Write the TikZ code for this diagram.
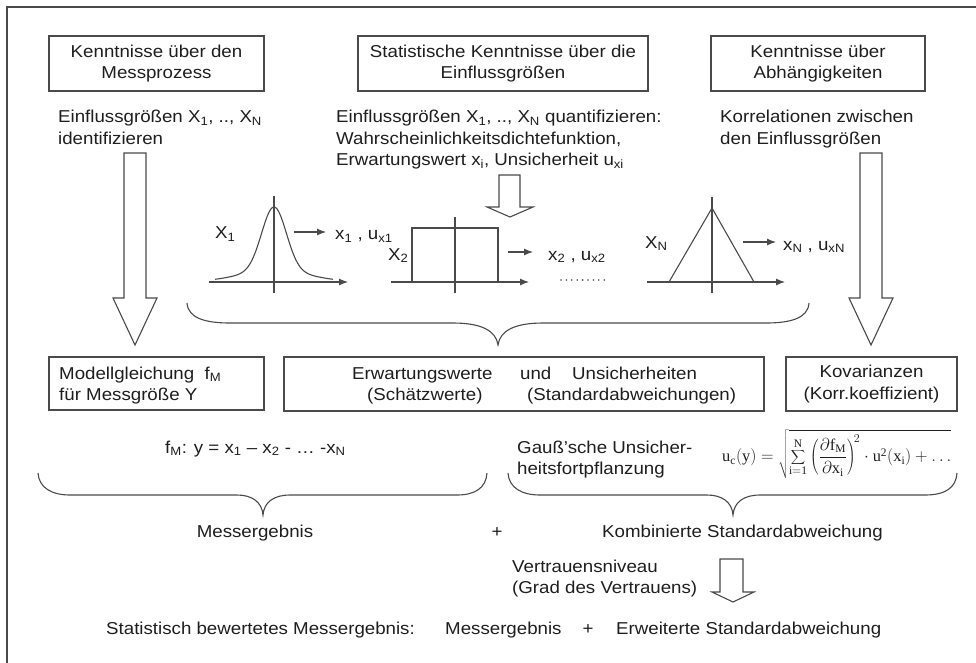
\documentclass[tikz,border=0pt]{standalone}
\usepackage{fontspec}
\setmainfont{Liberation Sans}[FakeStretch=1.087]
\setmathrm{Liberation Serif}
\usetikzlibrary{arrows.meta}
\definecolor{textc}{HTML}{1E1E1E}
\definecolor{linec}{HTML}{4A4A4A}
\newcommand{\subs}[1]{\textsubscript{#1}}
\newcommand{\fs}{\fontsize{17.2}{21.5}\selectfont}
\begin{document}
\begin{tikzpicture}[x=1pt,y=-1pt,
  box/.style={draw=linec, line width=1.2pt, inner sep=0pt, align=center, font=\fs, text=textc},
  txt/.style={anchor=base west, inner sep=0pt, font=\fs, text=textc},
  ctxt/.style={anchor=base, inner sep=0pt, font=\fs, text=textc},
  hollow/.style={draw=linec, fill=white, line width=1.1pt, line join=miter},
  axis/.style={draw=linec, line width=1.1pt, -{Latex[length=9pt,width=7pt]}},
  curve/.style={draw=linec, line width=1.1pt},
  brace/.style={draw=linec, line width=1.1pt},
  frame/.style={draw=linec, line width=1.5pt}]
\useasboundingbox (0,0) rectangle (976,662);
% frame
\draw[frame] (7,663) -- (7,7) -- (977,7);

% top boxes
\node[box, minimum width=215, minimum height=55] (b1) at (156.5,63.5) {Kenntnisse über den\\Messprozess};
\node[box, minimum width=290, minimum height=55] (b2) at (503,63.5) {Statistische Kenntnisse über die\\Einflussgrößen};
\node[box, minimum width=214, minimum height=55] (b3) at (818,63.5) {Kenntnisse über\\Abhängigkeiten};

% texts below top boxes
\node[txt] (t1a) at (58,122.7) {Einflussgrößen X\subs{1}, .., X\subs{N}};
\node[txt] (t1b) at (58,144) {identifizieren};
\node[txt] (t2a) at (336,122.7) {Einflussgrößen X\subs{1}, .., X\subs{N} quantifizieren:};
\node[txt] (t2b) at (336,144) {Wahrscheinlichkeitsdichtefunktion,};
\node[txt] (t2c) at (336,165.5) {Erwartungswert x\subs{i}, Unsicherheit u\subs{xi}};
\node[txt] (t3a) at (720,122.7) {Korrelationen zwischen};
\node[txt] (t3b) at (720,144) {den Einflussgrößen};

% hollow arrows
\draw[hollow] (124,153) -- (146,153) -- (146,298) -- (157,298) -- (135,345) -- (113,298) -- (124,298) -- cycle;
\draw[hollow] (860,153) -- (882,153) -- (882,298) -- (893,298) -- (871,345) -- (849,298) -- (860,298) -- cycle;
\draw[hollow] (499,175) -- (520,175) -- (520,207) -- (533,207) -- (510,217) -- (487,207) -- (499,207) -- cycle;
\draw[hollow] (720,559) -- (743,559) -- (743,592) -- (754,592) -- (733,602) -- (712,592) -- (720,592) -- cycle;

% distribution 1: Gaussian
\draw[axis] (209,282) -- (348,282);
\draw[curve] (274,196) -- (274,293);
\draw[curve] plot[domain=-59:59, samples=90, smooth] ({274+\x},{282-75*(0.85*exp(-(\x*\x)/300)+0.15*exp(-(\x*\x)/2450))});
\node[txt] (lx1) at (215,238.5) {X\subs{1}};
\coordinate (a1s) at (294,232);
\coordinate (a1e) at (326,232);
\draw[axis] (a1s) -- (a1e);
\node[txt] (v1) at (335,239.5) {x\subs{1} , u\subs{x1}};

% distribution 2: rectangle
\draw[axis] (391,282) -- (529,282);
\draw[curve] (455,217) -- (455,293);
\draw[curve] (412,282) -- (412,228) -- (498,228) -- (498,282);
\node[txt] (lx2) at (388,260) {X\subs{2}};
\coordinate (a2s) at (508,252);
\coordinate (a2e) at (533,252);
\draw[axis] (a2s) -- (a2e);
\node[txt] (v2) at (548,260) {x\subs{2} , u\subs{x2}};
\foreach \i in {0,...,8} \fill[linec] (561+5.4*\i,280) circle (0.9);

% distribution N: triangle
\draw[axis] (647,282) -- (785,282);
\draw[curve] (712,197) -- (712,293);
\draw[curve, line join=miter] (669,282) -- (712,208) -- (754,282);
\node[txt] (lxn) at (645,248) {X\subs{N}};
\coordinate (ans) at (743,242);
\coordinate (ane) at (776,242);
\draw[axis] (ans) -- (ane);
\node[txt] (vn) at (783,250) {x\subs{N} , u\subs{xN}};

% top brace
\draw[brace] (187,303) .. controls (188,318) and (205,323) .. (230,323) -- (453,323)
  .. controls (480,323) and (496,330) .. (498,345)
  .. controls (500,330) and (516,323) .. (543,323) -- (766,323)
  .. controls (791,323) and (808,318) .. (809,303);

% middle boxes
\node[box, minimum width=215, minimum height=53] (b4) at (156.5,383.5) {};
\node[txt] (b4a) at (59,379) {Modellgleichung \ f\subs{M}};
\node[txt] (b4b) at (59,400.7) {für Messgröße Y};
\node[box, minimum width=480, minimum height=54] (b5) at (524,384) {};
\node[txt] (b5a) at (352,379) {Erwartungswerte};
\node[txt] (b5b) at (520,379) {und};
\node[txt] (b5c) at (572,379) {Unsicherheiten};
\node[txt] (b5d) at (367,400.7) {(Schätzwerte)};
\node[txt] (b5e) at (527,400.7) {(Standardabweichungen)};
\node[box, minimum width=171, minimum height=54] (b6) at (871.5,384) {Kovarianzen\\(Korr.koeffizient)};

% model equation
\node[txt] (feq) at (165,453) {f\subs{M}: y = x\subs{1} – x\subs{2} - … -x\subs{N}};
\node[txt] (gs1) at (517,453) {Gauß'sche Unsicher-};
\node[txt] (gs2) at (517,474) {heitsfortpflanzung};
\node[anchor=west, inner sep=0pt, text=textc, font=\fontsize{16.4}{19}\selectfont] (form) at (722,454)
  {$\displaystyle \mathrm{u_c(y)} = \sqrt{\sum_{\mathrm{i=1}}^{\mathrm{N}} \left(\frac{\partial \mathrm{f_M}}{\partial \mathrm{x_i}}\right)^{\!2} \cdot \mathrm{u^2(x_i)} + \ldots}$};

% lower braces
\draw[brace] (38,473) .. controls (39,488) and (52,495) .. (70,495) -- (237,495)
  .. controls (252,495) and (262,502) .. (263,515)
  .. controls (264,502) and (274,495) .. (290,495) -- (457,495)
  .. controls (475,495) and (486,488) .. (487,473);
\draw[brace] (508,473) .. controls (509,488) and (522,495) .. (540,495) -- (707,495)
  .. controls (722,495) and (732,502) .. (733,515)
  .. controls (734,502) and (744,495) .. (760,495) -- (925,495)
  .. controls (945,495) and (956,488) .. (957,473);

% results
\node[ctxt] (mres) at (255,537.3) {Messergebnis};
\node[ctxt] (plus1) at (497,537.3) {+};
\node[txt] (kstd) at (602,537.3) {Kombinierte Standardabweichung};
\node[txt] (vn1) at (512,572.7) {Vertrauensniveau};
\node[txt] (vn2) at (512,593.5) {(Grad des Vertrauens)};

% final line
\node[txt] (fin1) at (106,634) {Statistisch bewertetes Messergebnis:};
\node[txt] (fin2) at (445,634) {Messergebnis};
\node[ctxt] (plus2) at (588,634) {+};
\node[txt] (fin3) at (616,634) {Erweiterte Standardabweichung};
\end{tikzpicture}
\end{document}
